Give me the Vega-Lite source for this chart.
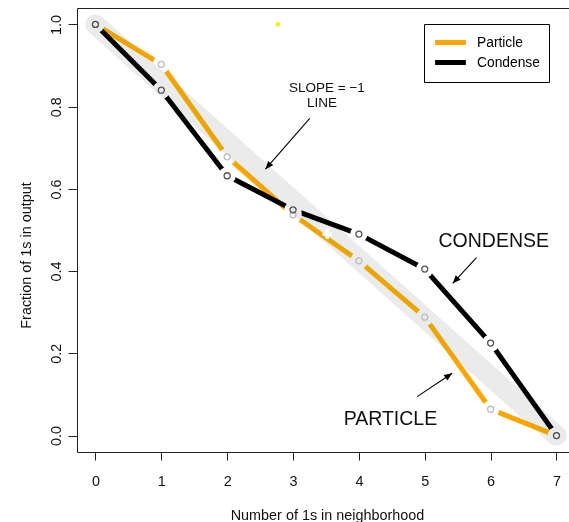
{
  "$schema": "https://vega.github.io/schema/vega-lite/v6.json",
  "width": 492,
  "height": 444,
  "autosize": {"type": "none"},
  "padding": {"left": 77, "top": 8, "right": 0, "bottom": 70},
  "background": "white",
  "config": {
    "font": "Liberation Sans",
    "view": {"stroke": null},
    "axis": {"grid": false, "domainColor": "#222", "tickColor": "#222", "labelColor": "#111", "titleColor": "#111", "labelFontSize": 14.4, "titleFontSize": 14.4, "titleFontWeight": "normal"}
  },
  "datasets": {
    "series": [
      {"n": 0, "frac": 1.0, "series": "Particle"},
      {"n": 1, "frac": 0.903, "series": "Particle"},
      {"n": 2, "frac": 0.678, "series": "Particle"},
      {"n": 3, "frac": 0.537, "series": "Particle"},
      {"n": 4, "frac": 0.425, "series": "Particle"},
      {"n": 5, "frac": 0.288, "series": "Particle"},
      {"n": 6, "frac": 0.064, "series": "Particle"},
      {"n": 7, "frac": 0.0, "series": "Particle"},
      {"n": 0, "frac": 1.0, "series": "Condense"},
      {"n": 1, "frac": 0.84, "series": "Condense"},
      {"n": 2, "frac": 0.632, "series": "Condense"},
      {"n": 3, "frac": 0.549, "series": "Condense"},
      {"n": 4, "frac": 0.49, "series": "Condense"},
      {"n": 5, "frac": 0.405, "series": "Condense"},
      {"n": 6, "frac": 0.225, "series": "Condense"},
      {"n": 7, "frac": 0.0, "series": "Condense"}
    ],
    "band": [{"x": 0, "y": 1, "x2": 7, "y2": 0}],
    "arrows": [
      {"id": "slope", "x": 3.254, "y": 0.7715, "x2": 2.581, "y2": 0.648},
      {"id": "condense", "x": 5.785, "y": 0.4327, "x2": 5.425, "y2": 0.3704},
      {"id": "particle", "x": 4.885, "y": 0.0948, "x2": 5.416, "y2": 0.1517}
    ],
    "smalltext": [
      {"text": "SLOPE = −1", "x": 3.515, "y": 0.836},
      {"text": "LINE", "x": 3.439, "y": 0.7997}
    ],
    "bigtext": [
      {"text": "CONDENSE", "x": 6.048, "y": 0.4594},
      {"text": "PARTICLE", "x": 4.479, "y": 0.026}
    ],
    "dot": [{"x": 2.77, "y": 1.0}],
    "cross": [{"x": 3.52, "y": 0.49}]
  },
  "layer": [
    {
      "data": {"name": "band"},
      "mark": {"type": "rule", "color": "#ebebeb", "strokeWidth": 20, "strokeCap": "round"},
      "encoding": {
        "x": {"field": "x", "type": "quantitative", "scale": {"domain": [-0.28, 7.19], "nice": false, "zero": false},
          "axis": {"orient": "top", "labels": false, "ticks": false, "domain": true, "title": null}},
        "y": {"field": "y", "type": "quantitative", "scale": {"domain": [-0.04, 1.04], "nice": false, "zero": false},
          "axis": {"title": "Fraction of 1s in output", "values": [0, 0.2, 0.4, 0.6, 0.8, 1.0], "format": ".1f",
            "labelAngle": -90, "labelAlign": "center", "labelBaseline": "alphabetic", "labelPadding": 7.5, "tickSize": 9,
            "labelFlush": false, "labelOverlap": false,
            "titleAngle": -90, "titleX": -47, "titleY": 247, "titleAlign": "center", "titleBaseline": "alphabetic"}},
        "x2": {"field": "x2"},
        "y2": {"field": "y2"}
      }
    },
    {
      "data": {"name": "series"},
      "mark": {"type": "line", "strokeWidth": 5, "strokeCap": "round", "strokeJoin": "round"},
      "encoding": {
        "x": {"field": "n", "type": "quantitative",
          "axis": {"orient": "bottom", "title": "Number of 1s in neighborhood", "values": [0, 1, 2, 3, 4, 5, 6, 7],
            "tickSize": 8, "labelPadding": 25, "labelBaseline": "alphabetic", "labelFlush": false,
            "titleX": 250, "titleY": 67, "titleAlign": "center", "titleBaseline": "alphabetic"}},
        "y": {"field": "frac", "type": "quantitative"},
        "color": {"field": "series", "type": "nominal",
          "scale": {"domain": ["Particle", "Condense"], "range": ["#FFA500", "#000000"]},
          "legend": {"title": null, "orient": "none", "legendX": 347, "legendY": 16, "symbolType": "M-2.2,0L2.2,0",
            "symbolStrokeWidth": 5, "symbolSize": 196, "symbolOffset": 8, "labelFontSize": 13.8, "labelOffset": 17, "padding": 9,
            "strokeColor": "#000", "fillColor": "#fff", "rowPadding": -3.8, "labelColor": "#000"}}
      }
    },
    {
      "data": {"name": "series"},
      "mark": {"type": "point", "filled": true, "color": "white", "size": 300, "strokeWidth": 0, "opacity": 1},
      "encoding": {
        "x": {"field": "n", "type": "quantitative", "axis": null},
        "y": {"field": "frac", "type": "quantitative"}
      }
    },
    {
      "data": {"name": "band"},
      "mark": {"type": "rule", "color": "#ebebeb", "strokeWidth": 20, "strokeCap": "round", "blend": "darken"},
      "encoding": {
        "x": {"field": "x", "type": "quantitative", "axis": null},
        "y": {"field": "y", "type": "quantitative"},
        "x2": {"field": "x2"},
        "y2": {"field": "y2"}
      }
    },
    {
      "data": {"name": "cross"},
      "mark": {"type": "point", "shape": "cross", "filled": true, "color": "white", "size": 90, "opacity": 1},
      "encoding": {
        "x": {"field": "x", "type": "quantitative", "axis": null},
        "y": {"field": "y", "type": "quantitative"}
      }
    },
    {
      "data": {"name": "series"},
      "mark": {"type": "point", "filled": false, "size": 36, "strokeWidth": 1.3, "opacity": 1},
      "encoding": {
        "x": {"field": "n", "type": "quantitative", "axis": null},
        "y": {"field": "frac", "type": "quantitative"},
        "stroke": {"field": "series", "type": "nominal",
          "scale": {"domain": ["Particle", "Condense"], "range": ["#bdbdbd", "#555555"]}, "legend": null}
      }
    },
    {
      "data": {"name": "dot"},
      "mark": {"type": "point", "filled": true, "color": "#f5f500", "size": 22, "opacity": 1},
      "encoding": {
        "x": {"field": "x", "type": "quantitative", "axis": null},
        "y": {"field": "y", "type": "quantitative"}
      }
    },
    {
      "data": {"name": "arrows"},
      "mark": {"type": "rule", "color": "#000", "strokeWidth": 1.1},
      "encoding": {
        "x": {"field": "x", "type": "quantitative", "axis": null},
        "y": {"field": "y", "type": "quantitative"},
        "x2": {"field": "x2"},
        "y2": {"field": "y2"}
      }
    },
    {
      "data": {"name": "arrows"},
      "transform": [{"filter": "datum.id == 'slope'"}],
      "mark": {"type": "point", "shape": "M0,0L-0.42,1L0.42,1Z", "filled": true, "color": "#000", "size": 256, "angle": 221, "opacity": 1},
      "encoding": {
        "x": {"field": "x2", "type": "quantitative", "axis": null},
        "y": {"field": "y2", "type": "quantitative"}
      }
    },
    {
      "data": {"name": "arrows"},
      "transform": [{"filter": "datum.id == 'condense'"}],
      "mark": {"type": "point", "shape": "M0,0L-0.42,1L0.42,1Z", "filled": true, "color": "#000", "size": 256, "angle": 223, "opacity": 1},
      "encoding": {
        "x": {"field": "x2", "type": "quantitative", "axis": null},
        "y": {"field": "y2", "type": "quantitative"}
      }
    },
    {
      "data": {"name": "arrows"},
      "transform": [{"filter": "datum.id == 'particle'"}],
      "mark": {"type": "point", "shape": "M0,0L-0.42,1L0.42,1Z", "filled": true, "color": "#000", "size": 256, "angle": 56, "opacity": 1},
      "encoding": {
        "x": {"field": "x2", "type": "quantitative", "axis": null},
        "y": {"field": "y2", "type": "quantitative"}
      }
    },
    {
      "data": {"name": "smalltext"},
      "mark": {"type": "text", "fontSize": 13.5, "align": "center", "baseline": "alphabetic", "color": "#111"},
      "encoding": {
        "x": {"field": "x", "type": "quantitative", "axis": null},
        "y": {"field": "y", "type": "quantitative"},
        "text": {"field": "text"}
      }
    },
    {
      "data": {"name": "bigtext"},
      "mark": {"type": "text", "fontSize": 19.5, "align": "center", "baseline": "alphabetic", "color": "#111"},
      "encoding": {
        "x": {"field": "x", "type": "quantitative", "axis": null},
        "y": {"field": "y", "type": "quantitative"},
        "text": {"field": "text"}
      }
    }
  ],
  "resolve": {"axis": {"x": "independent"}}
}
